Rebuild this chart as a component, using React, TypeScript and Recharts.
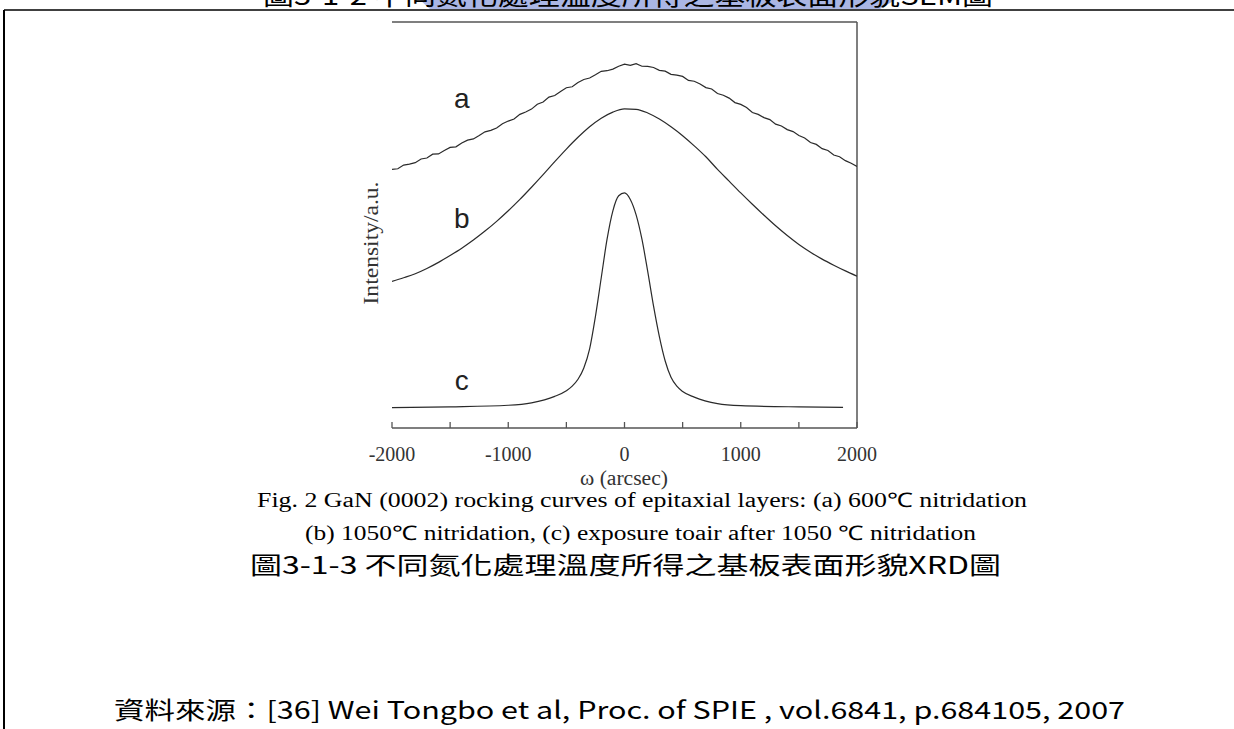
import React from 'react';
import { LineChart, Line, XAxis, YAxis, ReferenceLine, ReferenceDot } from 'recharts';

// ω (arcsec) sampling grids
const OMEGA_A = Array.from({ length: 81 }, (_, i) => -2000 + i * 50);
const OMEGA_B = Array.from({ length: 41 }, (_, i) => -2000 + i * 100);
const OMEGA_C = [-2000, -1500, -1000, -800, -600, -500, -450, -400, -350, -300, -250, -200, -150, -100, -50, 0, 50, 100, 150, 200, 250, 300, 350, 400, 450, 500, 600, 800, 1000, 1500, 1880];

// Intensity (a.u., stacked offsets)
const INTENSITY_A = [
  63.7, 63.85, 64.75, 65.0, 65.35, 66.25, 66.5, 67.45, 67.5, 68.35,
  69.1, 69.25, 70.2, 70.9, 71.2, 72.05, 72.95, 73.3, 73.9, 74.95,
  75.6, 76.1, 77.25, 77.85, 78.55, 79.75, 80.3, 81.5, 81.9, 82.9,
  83.8, 84.05, 85.1, 85.85, 86.2, 87.0, 87.85, 88.0, 88.4, 89.1,
  89.6, 89.3, 89.75, 89.1, 89.05, 88.8, 88.1, 87.9, 87.1, 86.9,
  86.6, 85.6, 85.4, 84.75, 83.85, 83.5, 82.4, 81.95, 81.25, 80.15,
  79.7, 78.95, 77.7, 77.25, 76.45, 75.95, 74.85, 74.4, 73.5, 73.0,
  72.05, 71.45, 70.3, 69.85, 68.8, 68.35, 67.25, 66.8, 65.85, 65.2,
  64.4,
];
const INTENSITY_B = [
  36.1, 37.0, 38.0, 39.3, 40.8, 42.5, 44.3, 46.3, 48.5, 50.9,
  53.5, 56.3, 59.3, 62.4, 65.6, 68.7, 71.6, 74.2, 76.3, 77.8,
  78.6, 78.5, 77.6, 76.1, 74.2, 72.0, 69.5, 66.8, 63.7, 60.8,
  57.9, 55.1, 52.4, 49.8, 47.4, 45.2, 43.3, 41.6, 40.1, 38.7,
  37.4,
];
const INTENSITY_C = [5.0, 5.2, 5.6, 6.2, 7.8, 9.2, 10.3, 12.0, 14.8, 19.5, 27.5, 37.0, 46.5, 53.5, 57.2, 57.9, 56.3, 52.5, 46.5, 38.5, 30.0, 22.5, 16.5, 12.5, 10.3, 9.0, 7.6, 6.0, 5.5, 5.2, 5.1];

const X_TICKS = [-2000, -1500, -1000, -500, 0, 500, 1000, 1500, 2000];
const X_TICK_LABELS: Record<number, string> = { [-2000]: '-2000', [-1000]: '-1000', 0: '0', 1000: '1000', 2000: '2000' };

const CURVE_LABELS = [
  { x: -1400, y: 81.3, text: 'a' },
  { x: -1400, y: 51.7, text: 'b' },
  { x: -1400, y: 11.9, text: 'c' },
];

const dataA = OMEGA_A.map((x, i) => ({ x, y: INTENSITY_A[i] }));
const dataB = OMEGA_B.map((x, i) => ({ x, y: INTENSITY_B[i] }));
const dataC = OMEGA_C.map((x, i) => ({ x, y: INTENSITY_C[i] }));

const AXIS = '#555';
const LINE = '#2a2a2a';
const SERIF = '"Liberation Serif", "Times New Roman", serif';

const Tick = (props: any) => {
  const { x, y, payload } = props;
  const lbl = X_TICK_LABELS[payload.value];
  return (
    <g>
      <line x1={x} x2={x} y1={y} y2={y - 6} stroke={AXIS} strokeWidth={1.3} />
      {lbl !== undefined && (
        <text x={x} y={y + 33} textAnchor="middle" fontFamily={SERIF} fontSize={20} fill="#333">
          {lbl}
        </text>
      )}
    </g>
  );
};

export default function App() {
  return (
    <div style={{ position: 'absolute', left: 0, top: 0, width: 1234, height: 729, background: '#fff', overflow: 'hidden' }}>
      <LineChart
        width={1234}
        height={729}
        margin={{ top: 22, right: 377, bottom: 241, left: 392 }}
        style={{ position: 'absolute', left: 0, top: 0 }}
      >
        <XAxis
          type="number"
          dataKey="x"
          domain={[-2000, 2000]}
          ticks={X_TICKS}
          tick={<Tick />}
          tickLine={false}
          tickSize={0}
          tickMargin={0}
          height={60}
          axisLine={{ stroke: AXIS, strokeWidth: 1.5 }}
          allowDataOverflow
        />
        <YAxis type="number" domain={[0, 100]} width={0} tick={false} tickLine={false} axisLine={{ stroke: AXIS, strokeWidth: 1.5 }} allowDataOverflow />
        <ReferenceLine y={100} stroke={AXIS} strokeWidth={1.5} />
        <ReferenceLine x={2000} stroke={AXIS} strokeWidth={1.5} />
        <Line data={dataA} dataKey="y" type="linear" stroke={LINE} strokeWidth={1.2} dot={false} isAnimationActive={false} />
        <Line data={dataB} dataKey="y" type="monotone" stroke={LINE} strokeWidth={1.2} dot={false} isAnimationActive={false} />
        <Line data={dataC} dataKey="y" type="monotone" stroke={LINE} strokeWidth={1.2} dot={false} isAnimationActive={false} />
        {CURVE_LABELS.map((l) => (
          <ReferenceDot
            key={l.text}
            x={l.x}
            y={l.y}
            r={0}
            fill="none"
            stroke="none"
            label={{ value: l.text, position: 'center', fontSize: 28, fill: '#222', fontFamily: '"Liberation Sans", Arial, sans-serif' }}
          />
        ))}
      </LineChart>
      <svg width={1234} height={729} style={{ position: 'absolute', left: 0, top: 0, pointerEvents: 'none' }}>
        {/* page frame and clipped header of the previous caption */}
        <polygon points="420,0 895,0 880,9 430,9" fill="#aab6e4" />
        <text x={263} y={5} fontFamily='"Noto Sans CJK TC", sans-serif' fontSize={26} fill="#000" textLength={730} lengthAdjust="spacingAndGlyphs">
          圖3-1-2 不同氮化處理溫度所得之基板表面形貌SEM圖
        </text>
        <line x1={4} x2={1234} y1={10} y2={10} stroke="#000" strokeWidth={1.5} />
        <line x1={4} x2={4} y1={10} y2={729} stroke="#000" strokeWidth={2} />
        {/* axis titles */}
        <text transform="translate(378,243) rotate(-90)" textAnchor="middle" fontFamily={SERIF} fontSize={20} fill="#333" textLength={123} lengthAdjust="spacingAndGlyphs">
          Intensity/a.u.
        </text>
        <text x={624} y={485} textAnchor="middle" fontFamily={SERIF} fontSize={20} fill="#333" textLength={88} lengthAdjust="spacingAndGlyphs">
          ω (arcsec)
        </text>
        {/* captions */}
        <text x={257} y={507} fontFamily={SERIF} fontSize={20} fill="#000" textLength={770} lengthAdjust="spacingAndGlyphs">
          Fig. 2 GaN (0002) rocking curves of epitaxial layers: (a) 600℃ nitridation
        </text>
        <text x={305} y={540} fontFamily={SERIF} fontSize={20} fill="#000" textLength={671} lengthAdjust="spacingAndGlyphs">
          (b) 1050℃ nitridation, (c) exposure toair after 1050 ℃ nitridation
        </text>
        <text x={250} y={574} fontFamily='"Noto Sans CJK TC", sans-serif' fontSize={24} fill="#000" textLength={751} lengthAdjust="spacingAndGlyphs">
          圖3-1-3  不同氮化處理溫度所得之基板表面形貌XRD圖
        </text>
        <text x={114} y={719} fontFamily='"Noto Sans CJK TC", sans-serif' fontSize={24} fill="#000" textLength={1011} lengthAdjust="spacingAndGlyphs">
          資料來源：[36] Wei Tongbo et al, Proc. of SPIE , vol.6841, p.684105, 2007
        </text>
      </svg>
    </div>
  );
}
